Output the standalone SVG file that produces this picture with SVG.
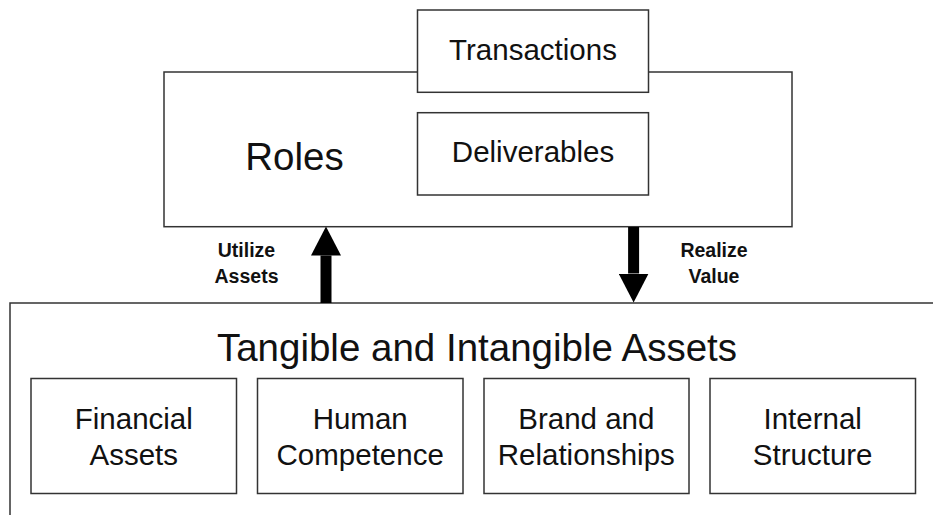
<svg xmlns="http://www.w3.org/2000/svg" width="933" height="515" viewBox="0 0 933 515">
<style>
.box{fill:#fff;stroke:#333;stroke-width:1.5}
.t{font-family:"Liberation Sans",Arial,sans-serif;fill:#111;text-anchor:middle}
.big{font-size:38.5px}
.mid{font-size:29.5px}
.lbl{font-size:19.5px;font-weight:bold}
.arrow{stroke:#000;stroke-width:11;fill:none}
</style>
<defs>
<marker id="head" viewBox="0 0 29 30" refX="0" refY="15" markerWidth="29" markerHeight="30" markerUnits="userSpaceOnUse" orient="auto">
<path d="M0,0 L29,15 L0,30 Z" fill="#000"/>
</marker>
</defs>
<rect width="933" height="515" fill="#fff"/>
<g id="assets">
<rect class="box" x="10" y="303" width="960" height="260"/>
<text class="t big" x="477" y="360.5">Tangible and Intangible Assets</text>
</g>
<g id="financial">
<rect class="box" x="31" y="378.5" width="205.5" height="115"/>
<text class="t mid" x="133.8" y="429">Financial</text>
<text class="t mid" x="133.8" y="465">Assets</text>
</g>
<g id="human">
<rect class="box" x="257.5" y="378.5" width="205.5" height="115"/>
<text class="t mid" x="360.2" y="429">Human</text>
<text class="t mid" x="360.2" y="465">Competence</text>
</g>
<g id="brand">
<rect class="box" x="484" y="378.5" width="205" height="115"/>
<text class="t mid" x="586.3" y="429">Brand and</text>
<text class="t mid" x="586.3" y="465">Relationships</text>
</g>
<g id="internal">
<rect class="box" x="710" y="378.5" width="205.5" height="115"/>
<text class="t mid" x="812.7" y="429">Internal</text>
<text class="t mid" x="812.7" y="465">Structure</text>
</g>
<g id="roles">
<rect class="box" x="164" y="72" width="628" height="154.7"/>
<text class="t big" x="294.5" y="170">Roles</text>
</g>
<g id="transactions">
<rect class="box" x="417.5" y="10" width="231" height="82.3"/>
<text class="t mid" x="533" y="60">Transactions</text>
</g>
<g id="deliverables">
<rect class="box" x="417.5" y="112.7" width="231" height="82.3"/>
<text class="t mid" x="533" y="162.3">Deliverables</text>
</g>
<g id="connectors">
<line class="arrow" x1="326" y1="303" x2="326" y2="255.5" marker-end="url(#head)"/>
<line class="arrow" x1="633.6" y1="227" x2="633.6" y2="273.5" marker-end="url(#head)"/>
<text class="t lbl" x="246.5" y="256.7">Utilize</text>
<text class="t lbl" x="246.5" y="282.7">Assets</text>
<text class="t lbl" x="714" y="256.7">Realize</text>
<text class="t lbl" x="714" y="282.7">Value</text>
</g>
</svg>
